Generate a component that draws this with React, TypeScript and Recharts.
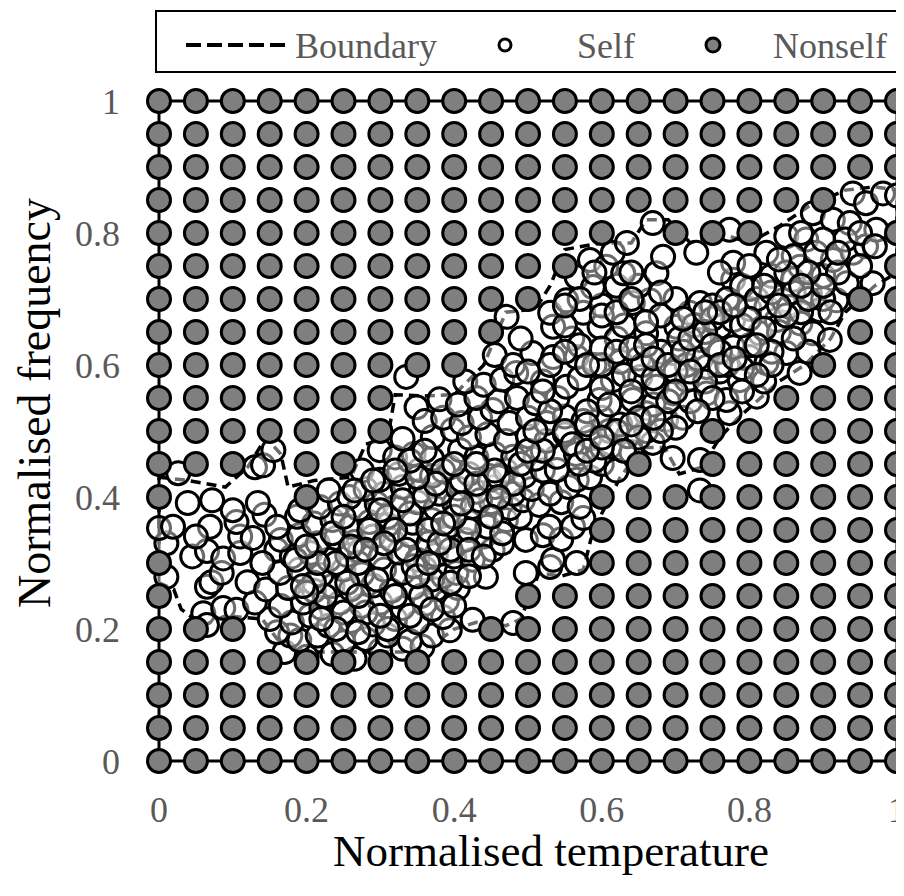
import React from 'react';
import { ScatterChart, Scatter, XAxis, YAxis } from 'recharts';

const FONT = '"Liberation Serif", "Times New Roman", serif';

const axisTicks = [0, 0.2, 0.4, 0.6, 0.8, 1];
const legendLabels = ['Boundary', 'Self', 'Nonself'];
const xTitle = 'Normalised temperature';
const yTitle = 'Normalised frequency';

const gridX = [0, 0.05, 0.1, 0.15, 0.2, 0.25, 0.3, 0.35, 0.4, 0.45, 0.5, 0.55, 0.6, 0.65, 0.7, 0.75, 0.8, 0.85, 0.9, 0.95, 1];

// nonself grid points: [y, x values present]
const nonselfRows: [number, number[]][] = [
  [1, gridX],
  [0.95, gridX],
  [0.9, gridX],
  [0.85, [0, 0.05, 0.1, 0.15, 0.2, 0.25, 0.3, 0.35, 0.4, 0.45, 0.5, 0.55, 0.6, 0.65, 0.7, 0.75, 0.8, 0.85, 0.9]],
  [0.8, [0, 0.05, 0.1, 0.15, 0.2, 0.25, 0.3, 0.35, 0.4, 0.45, 0.5, 0.55, 0.6, 0.7, 0.75, 0.8, 1]],
  [0.75, [0, 0.05, 0.1, 0.15, 0.2, 0.25, 0.3, 0.35, 0.4, 0.45, 0.5, 0.55, 1]],
  [0.7, [0, 0.05, 0.1, 0.15, 0.2, 0.25, 0.3, 0.35, 0.4, 0.45, 0.5, 0.95, 1]],
  [0.65, [0, 0.05, 0.1, 0.15, 0.2, 0.25, 0.3, 0.35, 0.4, 0.45, 0.95, 1]],
  [0.6, [0, 0.05, 0.1, 0.15, 0.2, 0.25, 0.3, 0.35, 0.4, 0.9, 0.95, 1]],
  [0.55, [0, 0.05, 0.1, 0.15, 0.2, 0.25, 0.3, 0.85, 0.9, 0.95, 1]],
  [0.5, [0, 0.05, 0.1, 0.15, 0.2, 0.25, 0.3, 0.75, 0.8, 0.85, 0.9, 0.95, 1]],
  [0.45, [0, 0.05, 0.1, 0.2, 0.25, 0.65, 0.75, 0.8, 0.85, 0.9, 0.95, 1]],
  [0.4, [0, 0.2, 0.6, 0.65, 0.7, 0.75, 0.8, 0.85, 0.9, 0.95, 1]],
  [0.35, [0.6, 0.65, 0.7, 0.75, 0.8, 0.85, 0.9, 0.95, 1]],
  [0.3, [0, 0.6, 0.65, 0.7, 0.75, 0.8, 0.85, 0.9, 0.95, 1]],
  [0.25, [0, 0.5, 0.55, 0.6, 0.65, 0.7, 0.75, 0.8, 0.85, 0.9, 0.95, 1]],
  [0.2, [0, 0.05, 0.1, 0.45, 0.5, 0.55, 0.6, 0.65, 0.7, 0.75, 0.8, 0.85, 0.9, 0.95, 1]],
  [0.15, gridX],
  [0.1, gridX],
  [0.05, gridX],
  [0, gridX],
];

// self points [x, y]
const selfPoints: [number, number][] = [
  [0.17, 0.165], [0.2, 0.158], [0.235, 0.162], [0.265, 0.155], [0.3, 0.168], [0.33, 0.17], [0.357, 0.173], [0.178, 0.19],
  [0.16, 0.195], [0.19, 0.183], [0.215, 0.19], [0.25, 0.18], [0.28, 0.185], [0.31, 0.19], [0.34, 0.182], [0.37, 0.19], [0.394, 0.198],
  [0.06, 0.224], [0.065, 0.206], [0.15, 0.215], [0.18, 0.21], [0.205, 0.22], [0.23, 0.205], [0.26, 0.212], [0.29, 0.207], [0.32, 0.215], [0.35, 0.21], [0.385, 0.218], [0.425, 0.214], [0.48, 0.209],
  [0.087, 0.232], [0.105, 0.229], [0.13, 0.24], [0.165, 0.235], [0.195, 0.24], [0.22, 0.232], [0.245, 0.24], [0.275, 0.235], [0.3, 0.24], [0.33, 0.232], [0.36, 0.238], [0.39, 0.242],
  [0.065, 0.264], [0.071, 0.271], [0.12, 0.271], [0.145, 0.26], [0.175, 0.262], [0.21, 0.258], [0.235, 0.265], [0.26, 0.26], [0.29, 0.266], [0.315, 0.258], [0.345, 0.263], [0.375, 0.26], [0.405, 0.262],
  [0.01, 0.279], [0.085, 0.285], [0.164, 0.285], [0.19, 0.29], [0.22, 0.282], [0.25, 0.29], [0.275, 0.283], [0.305, 0.29], [0.33, 0.285], [0.36, 0.292], [0.385, 0.28], [0.403, 0.285], [0.443, 0.279], [0.497, 0.285], [0.53, 0.294],
  [0.045, 0.31], [0.065, 0.318], [0.087, 0.307], [0.11, 0.315], [0.159, 0.32], [0.18, 0.31], [0.205, 0.315], [0.23, 0.305], [0.255, 0.312], [0.272, 0.318], [0.3, 0.308], [0.325, 0.316], [0.35, 0.305], [0.375, 0.312], [0.4, 0.31], [0.425, 0.305], [0.452, 0.32], [0.534, 0.305], [0.566, 0.3],
  [0.01, 0.33], [0.11, 0.34], [0.127, 0.338], [0.165, 0.335], [0.19, 0.342], [0.215, 0.33], [0.24, 0.338], [0.265, 0.332], [0.29, 0.34], [0.315, 0.335], [0.34, 0.342], [0.365, 0.33], [0.39, 0.338], [0.415, 0.335], [0.44, 0.34], [0.465, 0.33], [0.497, 0.335], [0.52, 0.342], [0.545, 0.336],
  [0.0, 0.353], [0.019, 0.355], [0.069, 0.355], [0.105, 0.362], [0.143, 0.373], [0.187, 0.37], [0.21, 0.36], [0.235, 0.365], [0.26, 0.355], [0.285, 0.362], [0.31, 0.358], [0.344, 0.361], [0.37, 0.365], [0.395, 0.357], [0.42, 0.362], [0.445, 0.355], [0.47, 0.365], [0.489, 0.37], [0.529, 0.355], [0.561, 0.355], [0.575, 0.368],
  [0.039, 0.391], [0.072, 0.395], [0.134, 0.391], [0.191, 0.38], [0.218, 0.385], [0.245, 0.39], [0.27, 0.382], [0.295, 0.39], [0.32, 0.385], [0.35, 0.392], [0.375, 0.383], [0.4, 0.39], [0.425, 0.385], [0.45, 0.392], [0.475, 0.383], [0.493, 0.395], [0.515, 0.388], [0.545, 0.392], [0.57, 0.385],
  [0.23, 0.41], [0.258, 0.4], [0.28, 0.412], [0.305, 0.405], [0.33, 0.415], [0.355, 0.41], [0.38, 0.405], [0.405, 0.413], [0.43, 0.408], [0.455, 0.415], [0.48, 0.405], [0.505, 0.412], [0.53, 0.405], [0.555, 0.415], [0.566, 0.426], [0.584, 0.43], [0.733, 0.41],
  [0.026, 0.436], [0.13, 0.445], [0.141, 0.448], [0.275, 0.44], [0.299, 0.426], [0.325, 0.435], [0.353, 0.441], [0.37, 0.432], [0.394, 0.445], [0.42, 0.435], [0.448, 0.426], [0.47, 0.44], [0.495, 0.432], [0.52, 0.44], [0.539, 0.441], [0.6, 0.45], [0.62, 0.44],
  [0.155, 0.471], [0.299, 0.471], [0.32, 0.46], [0.345, 0.465], [0.37, 0.458], [0.408, 0.471], [0.43, 0.46], [0.455, 0.465], [0.48, 0.461], [0.51, 0.458], [0.539, 0.461], [0.565, 0.465], [0.59, 0.455], [0.611, 0.476], [0.64, 0.468], [0.669, 0.482], [0.696, 0.459], [0.733, 0.456],
  [0.33, 0.488], [0.371, 0.491], [0.398, 0.502], [0.42, 0.49], [0.445, 0.495], [0.47, 0.485], [0.5, 0.492], [0.525, 0.485], [0.55, 0.495], [0.584, 0.491], [0.61, 0.5], [0.635, 0.492], [0.66, 0.5], [0.687, 0.517],
  [0.349, 0.536], [0.36, 0.515], [0.385, 0.52], [0.41, 0.512], [0.435, 0.52], [0.452, 0.532], [0.475, 0.512], [0.5, 0.52], [0.525, 0.512], [0.55, 0.522], [0.575, 0.515], [0.6, 0.52], [0.625, 0.51], [0.66, 0.527], [0.71, 0.52], [0.773, 0.527],
  [0.38, 0.548], [0.405, 0.54], [0.43, 0.55], [0.46, 0.545], [0.485, 0.55], [0.51, 0.542], [0.54, 0.55], [0.552, 0.567], [0.597, 0.547], [0.642, 0.547], [0.67, 0.54], [0.697, 0.557], [0.72, 0.545], [0.742, 0.557], [0.769, 0.547], [0.81, 0.552],
  [0.335, 0.582], [0.415, 0.575], [0.44, 0.57], [0.465, 0.578], [0.484, 0.588], [0.52, 0.575], [0.57, 0.58], [0.615, 0.577], [0.652, 0.582], [0.674, 0.567], [0.715, 0.577], [0.76, 0.59], [0.787, 0.577], [0.82, 0.575],
  [0.455, 0.615], [0.48, 0.6], [0.506, 0.618], [0.534, 0.612], [0.566, 0.612], [0.59, 0.6], [0.625, 0.605], [0.65, 0.61], [0.696, 0.618], [0.715, 0.6], [0.742, 0.597], [0.77, 0.6], [0.8, 0.612], [0.823, 0.603], [0.85, 0.618], [0.868, 0.588],
  [0.49, 0.64], [0.534, 0.658], [0.56, 0.64], [0.597, 0.658], [0.62, 0.64], [0.66, 0.648], [0.701, 0.658], [0.733, 0.638], [0.76, 0.658], [0.778, 0.627], [0.814, 0.648], [0.837, 0.668], [0.869, 0.663], [0.886, 0.648], [0.909, 0.638], [0.88, 0.62],
  [0.471, 0.673], [0.53, 0.679], [0.552, 0.698], [0.575, 0.679], [0.6, 0.69], [0.642, 0.694], [0.665, 0.698], [0.68, 0.675], [0.719, 0.679], [0.733, 0.694], [0.75, 0.69], [0.778, 0.668], [0.8, 0.685], [0.823, 0.688], [0.846, 0.698], [0.854, 0.688], [0.882, 0.709], [0.895, 0.683], [0.918, 0.698],
  [0.566, 0.733], [0.588, 0.718], [0.62, 0.72], [0.65, 0.72], [0.674, 0.739], [0.778, 0.729], [0.8, 0.715], [0.83, 0.735], [0.859, 0.729], [0.869, 0.749], [0.9, 0.735], [0.932, 0.724], [0.967, 0.724],
  [0.584, 0.759], [0.606, 0.749], [0.629, 0.739], [0.615, 0.77], [0.683, 0.764], [0.728, 0.77], [0.778, 0.755], [0.823, 0.77], [0.85, 0.795], [0.877, 0.79], [0.913, 0.759], [0.94, 0.77], [0.958, 0.78],
  [0.634, 0.785], [0.669, 0.815], [0.773, 0.805], [0.886, 0.83], [0.913, 0.82], [0.936, 0.815], [0.972, 0.805],
  [0.94, 0.86], [0.958, 0.845], [0.981, 0.86], [1.0, 0.857],
  [0.225, 0.25], [0.25, 0.225], [0.27, 0.3], [0.295, 0.275], [0.32, 0.25], [0.345, 0.295], [0.37, 0.275], [0.395, 0.32], [0.42, 0.35], [0.435, 0.395],
  [0.41, 0.425], [0.385, 0.44], [0.36, 0.4], [0.34, 0.375], [0.31, 0.37], [0.285, 0.35], [0.26, 0.325], [0.24, 0.3], [0.31, 0.2], [0.28, 0.225],
  [0.355, 0.25], [0.33, 0.395], [0.365, 0.35], [0.4, 0.37], [0.43, 0.42], [0.46, 0.43], [0.48, 0.42], [0.46, 0.4], [0.465, 0.345], [0.21, 0.27],
  [0.52, 0.47], [0.55, 0.5], [0.58, 0.53], [0.6, 0.565], [0.63, 0.585], [0.655, 0.6], [0.68, 0.62], [0.705, 0.64], [0.725, 0.66], [0.75, 0.67],
  [0.77, 0.7], [0.79, 0.72], [0.81, 0.7], [0.83, 0.71], [0.86, 0.71], [0.87, 0.68], [0.84, 0.65], [0.8, 0.63], [0.76, 0.62], [0.73, 0.61],
  [0.7, 0.59], [0.67, 0.58], [0.64, 0.56], [0.61, 0.54], [0.58, 0.51], [0.56, 0.48], [0.62, 0.5], [0.65, 0.52], [0.69, 0.545], [0.74, 0.575],
  [0.79, 0.595], [0.83, 0.62], [0.6, 0.6], [0.57, 0.63], [0.55, 0.66], [0.6, 0.675], [0.63, 0.66], [0.66, 0.665], [0.7, 0.7], [0.76, 0.74],
  [0.9, 0.7], [0.92, 0.74], [0.95, 0.75], [0.89, 0.77], [0.93, 0.79], [0.86, 0.765],
  [0.1, 0.38], [0.16, 0.355], [0.05, 0.34], [0.2, 0.255], [0.14, 0.3],
  [0.215, 0.3], [0.235, 0.345], [0.25, 0.37], [0.265, 0.41], [0.29, 0.425], [0.3, 0.38], [0.32, 0.35], [0.335, 0.32], [0.35, 0.28], [0.365, 0.3],
  [0.38, 0.33], [0.385, 0.36], [0.41, 0.39], [0.42, 0.32], [0.44, 0.31], [0.45, 0.37], [0.455, 0.44], [0.43, 0.45], [0.4, 0.45], [0.375, 0.42],
  [0.35, 0.43], [0.34, 0.455], [0.36, 0.47], [0.32, 0.44], [0.305, 0.33], [0.28, 0.32], [0.255, 0.27], [0.27, 0.25], [0.3, 0.22], [0.34, 0.22],
  [0.37, 0.23], [0.4, 0.235], [0.395, 0.27], [0.42, 0.28], [0.24, 0.2], [0.27, 0.195], [0.22, 0.215], [0.195, 0.265], [0.185, 0.305], [0.2, 0.325],
  [0.49, 0.45], [0.5, 0.47], [0.51, 0.5], [0.53, 0.53], [0.52, 0.56], [0.5, 0.59], [0.53, 0.6], [0.55, 0.62], [0.58, 0.6], [0.6, 0.625],
  [0.62, 0.62], [0.64, 0.625], [0.66, 0.63], [0.67, 0.61], [0.69, 0.6], [0.71, 0.62], [0.72, 0.64], [0.74, 0.65], [0.75, 0.63], [0.76, 0.68],
  [0.79, 0.66], [0.8, 0.67], [0.82, 0.655], [0.85, 0.675], [0.86, 0.64], [0.83, 0.6], [0.81, 0.585], [0.79, 0.56], [0.75, 0.55], [0.73, 0.53],
  [0.7, 0.505], [0.68, 0.5], [0.65, 0.49], [0.63, 0.47], [0.6, 0.475], [0.57, 0.45], [0.58, 0.47], [0.6, 0.49], [0.64, 0.51], [0.67, 0.52],
  [0.7, 0.56], [0.72, 0.59], [0.76, 0.6], [0.78, 0.61], [0.81, 0.63], [0.84, 0.69], [0.88, 0.7], [0.9, 0.72], [0.88, 0.74], [0.91, 0.68],
  [0.62, 0.68], [0.64, 0.7], [0.68, 0.71], [0.71, 0.67], [0.74, 0.68], [0.78, 0.69], [0.82, 0.72], [0.85, 0.74], [0.87, 0.72], [0.57, 0.7],
  [0.55, 0.69], [0.59, 0.74], [0.64, 0.74], [0.8, 0.75], [0.84, 0.76], [0.87, 0.8], [0.9, 0.79], [0.92, 0.77], [0.95, 0.8], [0.97, 0.78],
];

// boundary polygon [x, y]
const boundaryPath: [number, number][] = [
  [0, 0.43], [0.04, 0.425], [0.09, 0.415], [0.12, 0.445], [0.145, 0.49], [0.165, 0.465], [0.175, 0.415], [0.21, 0.425],
  [0.26, 0.43], [0.28, 0.48], [0.31, 0.49], [0.32, 0.555], [0.36, 0.553], [0.4, 0.555], [0.44, 0.6], [0.47, 0.68],
  [0.51, 0.685], [0.53, 0.72], [0.55, 0.775], [0.6, 0.785], [0.64, 0.785], [0.66, 0.82], [0.69, 0.82], [0.72, 0.785],
  [0.76, 0.8], [0.8, 0.785], [0.84, 0.81], [0.88, 0.84], [0.93, 0.865], [0.97, 0.87], [1, 0.865], [1, 0.74],
  [0.97, 0.72], [0.93, 0.68], [0.91, 0.64], [0.875, 0.6], [0.84, 0.575], [0.815, 0.55], [0.785, 0.52], [0.76, 0.49],
  [0.735, 0.445], [0.705, 0.435], [0.685, 0.475], [0.655, 0.475], [0.625, 0.43], [0.6, 0.375], [0.585, 0.335], [0.575, 0.29],
  [0.545, 0.28], [0.515, 0.285], [0.49, 0.215], [0.47, 0.205], [0.43, 0.21], [0.4, 0.2], [0.37, 0.175], [0.33, 0.165],
  [0.2, 0.165], [0.16, 0.185], [0.14, 0.215], [0.09, 0.22], [0.06, 0.205], [0.03, 0.23], [0.02, 0.26], [0, 0.27], [0, 0.43],
];

const frameCorners: [number, number][] = [[0, 0], [1, 0], [1, 1], [0, 1], [0, 0]];

const toXY = (pts: [number, number][]) => pts.map(([x, y]) => ({ x, y }));
const selfData = toXY(selfPoints);
const boundaryData = toXY(boundaryPath);
const frameData = toXY(frameCorners);
const nonselfData = nonselfRows.flatMap(([y, xs]) => xs.map((x) => ({ x, y })));

const R = 11.5;
const SelfDot = (p: any) => (
  <circle cx={p.cx} cy={p.cy} r={R} fill="#ffffff" fillOpacity={0.42} stroke="#000" strokeWidth={3} />
);
const NonselfDot = (p: any) => (
  <circle cx={p.cx} cy={p.cy} r={R} fill="#7f7f7f" stroke="#000" strokeWidth={3} />
);
const NoDot = () => <g />;

const XTitle = () => (
  <text x={543} y={858} textAnchor="middle" fontFamily={FONT} fontSize={45} fill="#000">
    {xTitle}
  </text>
);
const YTitle = () => (
  <text x={42} y={395} textAnchor="middle" fontFamily={FONT} fontSize={46} fill="#000" transform="rotate(-90 42 395)">
    {yTitle}
  </text>
);

const tickStyle = { fill: '#595959', fontSize: 36, fontFamily: FONT };

const Legend = () => (
  <svg width={747} height={63} style={{ position: 'absolute', left: 147, top: 2 }}>
    <rect x={1} y={1} width={745} height={61} fill="#fff" stroke="#000" strokeWidth={2} />
    <line x1={31} x2={135} y1={35} y2={35} stroke="#000" strokeWidth={4} strokeDasharray="15 6" />
    <text x={140} y={48} fontFamily={FONT} fontSize={36} fill="#595959">{legendLabels[0]}</text>
    <circle cx={350} cy={35} r={6} fill="#fff" stroke="#000" strokeWidth={3} />
    <text x={422} y={48} fontFamily={FONT} fontSize={36} fill="#595959">{legendLabels[1]}</text>
    <circle cx={558} cy={35} r={7} fill="#7f7f7f" stroke="#000" strokeWidth={3} />
    <text x={618} y={48} fontFamily={FONT} fontSize={36} fill="#595959">{legendLabels[2]}</text>
  </svg>
);

export default function App() {
  return (
    <div style={{ position: 'relative', width: 896, height: 880 }}>
      <ScatterChart width={896} height={880} margin={{ top: 93, right: 7, bottom: 0, left: 0 }}>
        <XAxis
          type="number"
          dataKey="x"
          domain={[0, 1]}
          ticks={axisTicks}
          interval={0}
          height={127}
          axisLine={false}
          tickLine={false}
          tickSize={0}
          tickMargin={35}
          tick={tickStyle}
          label={XTitle}
        />
        <YAxis
          type="number"
          dataKey="y"
          domain={[0, 1]}
          ticks={axisTicks}
          interval={0}
          width={151}
          axisLine={false}
          tickLine={false}
          tickSize={0}
          tickMargin={39}
          tick={tickStyle}
          label={YTitle}
        />
        <Scatter
          name="frame"
          data={frameData}
          line={{ stroke: '#000', strokeWidth: 3 }}
          shape={NoDot}
          isAnimationActive={false}
        />
        <Scatter
          name={legendLabels[0]}
          data={boundaryData}
          line={{ stroke: '#000', strokeWidth: 3.5, strokeDasharray: '10 6' }}
          shape={NoDot}
          isAnimationActive={false}
        />
        <Scatter name={legendLabels[1]} data={selfData} shape={SelfDot} isAnimationActive={false} />
        <Scatter name={legendLabels[2]} data={nonselfData} shape={NonselfDot} isAnimationActive={false} />
      </ScatterChart>
      <Legend />
    </div>
  );
}
